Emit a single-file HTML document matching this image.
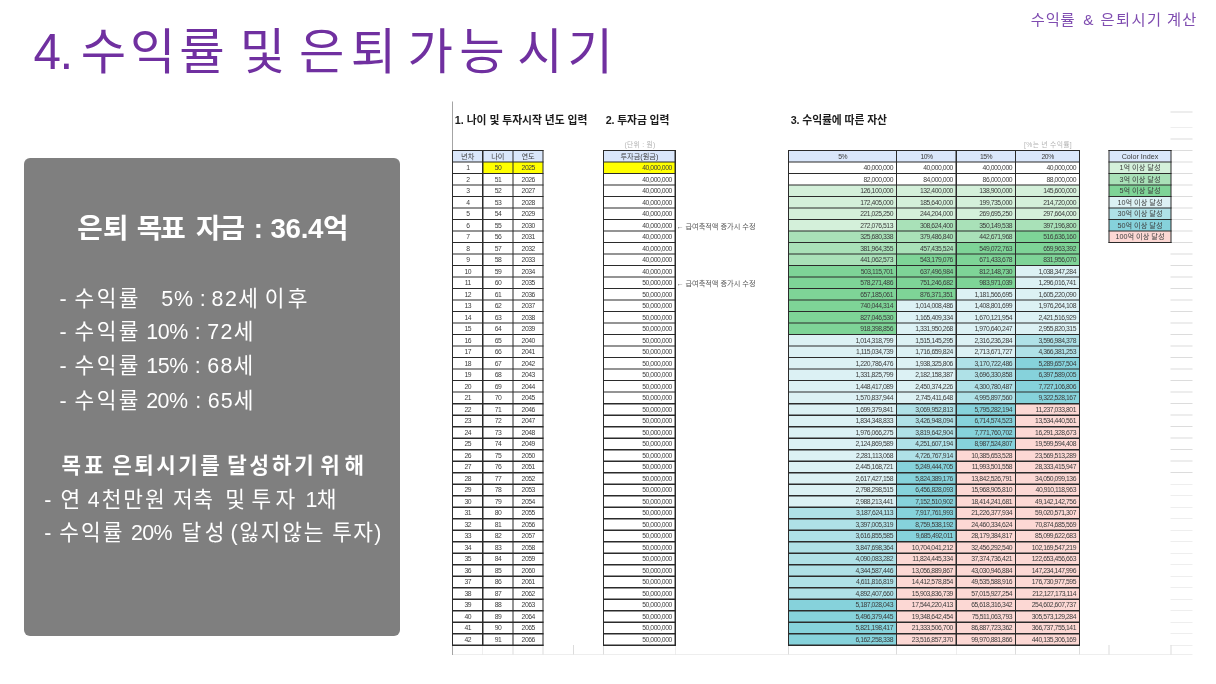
<!DOCTYPE html>
<html lang="ko">
<head>
<meta charset="utf-8">
<title>수익률 및 은퇴 가능 시기</title>
<style>
html,body{margin:0;padding:0;background:#fff;}
body{width:1216px;height:684px;position:relative;overflow:hidden;font-family:"Liberation Sans","Noto Sans CJK KR","NanumGothic",sans-serif;}
#box{position:absolute;left:24px;top:158px;width:376px;height:477.5px;background:#7f7f7f;border-radius:6px;color:#fff;}
.w{position:absolute;white-space:nowrap;line-height:1;}
#sheet{position:absolute;left:0;top:0;width:2432px;height:1368px;transform:scale(0.5);transform-origin:0 0;font-size:14.4px;color:#3c3c3c;}
#sheet div{position:absolute;box-sizing:border-box;white-space:nowrap;overflow:hidden;}
#sheet .c{display:flex;align-items:center;justify-content:center;line-height:1;}
#sheet .c.r{justify-content:flex-end;padding-right:6.8px;letter-spacing:-0.9px;font-size:13.6px;}
#sheet .c.n{letter-spacing:-0.9px;font-size:13.6px;padding-left:0.9px;}
#sheet .note{display:flex;align-items:center;color:#555;font-size:14.4px;overflow:visible;}
</style>
</head>
<body>
<div id="box"></div>
<span id="ti0" class="w" style="left:33.47px;top:26.74px;font-size:49.4px;font-weight:400;letter-spacing:-1.40px;color:#7030a0">4.</span>
<span id="ti1" class="w" style="left:80.81px;top:26.74px;font-size:49.4px;font-weight:400;letter-spacing:3.78px;color:#7030a0">수익률</span>
<span id="ti2" class="w" style="left:239.72px;top:26.74px;font-size:49.4px;font-weight:400;letter-spacing:0.00px;color:#7030a0">및</span>
<span id="ti3" class="w" style="left:298.99px;top:26.74px;font-size:49.4px;font-weight:400;letter-spacing:6.26px;color:#7030a0">은퇴</span>
<span id="ti4" class="w" style="left:407.42px;top:26.74px;font-size:49.4px;font-weight:400;letter-spacing:6.34px;color:#7030a0">가능</span>
<span id="ti5" class="w" style="left:517.31px;top:26.74px;font-size:49.4px;font-weight:400;letter-spacing:4.83px;color:#7030a0">시기</span>
<span id="tg0" class="w" style="left:1030.83px;top:11.80px;font-size:15.3px;font-weight:400;letter-spacing:0.75px;color:#7f4cb0">수익률</span>
<span id="tg1" class="w" style="left:1083.17px;top:11.80px;font-size:15.3px;font-weight:400;letter-spacing:0.00px;color:#7f4cb0">&amp;</span>
<span id="tg2" class="w" style="left:1100.46px;top:11.80px;font-size:15.3px;font-weight:400;letter-spacing:1.42px;color:#7f4cb0">은퇴시기</span>
<span id="tg3" class="w" style="left:1166.98px;top:11.80px;font-size:15.3px;font-weight:400;letter-spacing:1.29px;color:#7f4cb0">계산</span>
<span id="h10" class="w" style="left:77.14px;top:214.73px;font-size:27.7px;font-weight:700;letter-spacing:0.28px;color:#ffffff">은퇴</span>
<span id="h11" class="w" style="left:136.71px;top:214.73px;font-size:27.7px;font-weight:700;letter-spacing:-1.87px;color:#ffffff">목표</span>
<span id="h12" class="w" style="left:196.11px;top:214.73px;font-size:27.7px;font-weight:700;letter-spacing:-1.97px;color:#ffffff">자금</span>
<span id="h13" class="w" style="left:253.77px;top:214.73px;font-size:27.7px;font-weight:700;letter-spacing:0.00px;color:#ffffff">:</span>
<span id="h14" class="w" style="left:270.47px;top:214.73px;font-size:27.7px;font-weight:700;letter-spacing:-0.32px;color:#ffffff">36.4억</span>
<span id="la0" class="w" style="left:59.50px;top:288.61px;font-size:21.4px;font-weight:400;letter-spacing:0.00px;color:#ffffff">-</span>
<span id="la1" class="w" style="left:74.58px;top:288.61px;font-size:21.4px;font-weight:400;letter-spacing:2.39px;color:#ffffff">수익률</span>
<span id="la2" class="w" style="left:161.30px;top:288.61px;font-size:21.4px;font-weight:400;letter-spacing:0.79px;color:#ffffff">5%</span>
<span id="la3" class="w" style="left:199.64px;top:288.61px;font-size:21.4px;font-weight:400;letter-spacing:0.00px;color:#ffffff">:</span>
<span id="la4" class="w" style="left:211.57px;top:288.61px;font-size:21.4px;font-weight:400;letter-spacing:1.49px;color:#ffffff">82세</span>
<span id="la5" class="w" style="left:264.63px;top:288.61px;font-size:21.4px;font-weight:400;letter-spacing:3.43px;color:#ffffff">이후</span>
<span id="lb0" class="w" style="left:59.50px;top:322.45px;font-size:21.4px;font-weight:400;letter-spacing:0.00px;color:#ffffff">-</span>
<span id="lb1" class="w" style="left:74.58px;top:322.45px;font-size:21.4px;font-weight:400;letter-spacing:2.39px;color:#ffffff">수익률</span>
<span id="lb2" class="w" style="left:146.23px;top:322.45px;font-size:21.4px;font-weight:400;letter-spacing:-0.42px;color:#ffffff">10%</span>
<span id="lb3" class="w" style="left:194.79px;top:322.45px;font-size:21.4px;font-weight:400;letter-spacing:0.00px;color:#ffffff">:</span>
<span id="lb4" class="w" style="left:207.25px;top:322.45px;font-size:21.4px;font-weight:400;letter-spacing:1.31px;color:#ffffff">72세</span>
<span id="lc0" class="w" style="left:59.50px;top:355.89px;font-size:21.4px;font-weight:400;letter-spacing:0.00px;color:#ffffff">-</span>
<span id="lc1" class="w" style="left:74.58px;top:355.89px;font-size:21.4px;font-weight:400;letter-spacing:2.39px;color:#ffffff">수익률</span>
<span id="lc2" class="w" style="left:146.23px;top:355.89px;font-size:21.4px;font-weight:400;letter-spacing:-0.42px;color:#ffffff">15%</span>
<span id="lc3" class="w" style="left:194.79px;top:355.89px;font-size:21.4px;font-weight:400;letter-spacing:0.00px;color:#ffffff">:</span>
<span id="lc4" class="w" style="left:207.28px;top:355.89px;font-size:21.4px;font-weight:400;letter-spacing:1.26px;color:#ffffff">68세</span>
<span id="ld0" class="w" style="left:59.50px;top:390.63px;font-size:21.4px;font-weight:400;letter-spacing:0.00px;color:#ffffff">-</span>
<span id="ld1" class="w" style="left:74.58px;top:390.63px;font-size:21.4px;font-weight:400;letter-spacing:2.39px;color:#ffffff">수익률</span>
<span id="ld2" class="w" style="left:146.21px;top:390.63px;font-size:21.4px;font-weight:400;letter-spacing:-0.51px;color:#ffffff">20%</span>
<span id="ld3" class="w" style="left:195.33px;top:390.63px;font-size:21.4px;font-weight:400;letter-spacing:0.00px;color:#ffffff">:</span>
<span id="ld4" class="w" style="left:207.69px;top:390.63px;font-size:21.4px;font-weight:400;letter-spacing:1.19px;color:#ffffff">65세</span>
<span id="h20" class="w" style="left:61.48px;top:455.18px;font-size:21.2px;font-weight:700;letter-spacing:3.09px;color:#ffffff">목표</span>
<span id="h21" class="w" style="left:112.32px;top:455.18px;font-size:21.2px;font-weight:700;letter-spacing:2.52px;color:#ffffff">은퇴시기를</span>
<span id="h22" class="w" style="left:227.25px;top:455.18px;font-size:21.2px;font-weight:700;letter-spacing:2.87px;color:#ffffff">달성하기</span>
<span id="h23" class="w" style="left:320.14px;top:455.18px;font-size:21.2px;font-weight:700;letter-spacing:4.92px;color:#ffffff">위해</span>
<span id="le0" class="w" style="left:44.23px;top:490.45px;font-size:21.4px;font-weight:400;letter-spacing:0.00px;color:#ffffff">-</span>
<span id="le1" class="w" style="left:60.51px;top:490.45px;font-size:21.4px;font-weight:400;letter-spacing:0.00px;color:#ffffff">연</span>
<span id="le2" class="w" style="left:87.83px;top:490.45px;font-size:21.4px;font-weight:400;letter-spacing:1.94px;color:#ffffff">4천만원</span>
<span id="le3" class="w" style="left:172.88px;top:490.45px;font-size:21.4px;font-weight:400;letter-spacing:0.78px;color:#ffffff">저축</span>
<span id="le4" class="w" style="left:225.15px;top:490.45px;font-size:21.4px;font-weight:400;letter-spacing:0.00px;color:#ffffff">및</span>
<span id="le5" class="w" style="left:251.49px;top:490.45px;font-size:21.4px;font-weight:400;letter-spacing:4.34px;color:#ffffff">투자</span>
<span id="le6" class="w" style="left:305.43px;top:490.45px;font-size:21.4px;font-weight:400;letter-spacing:-0.45px;color:#ffffff">1채</span>
<span id="lf0" class="w" style="left:44.23px;top:522.61px;font-size:21.4px;font-weight:400;letter-spacing:0.00px;color:#ffffff">-</span>
<span id="lf1" class="w" style="left:59.15px;top:522.61px;font-size:21.4px;font-weight:400;letter-spacing:2.11px;color:#ffffff">수익률</span>
<span id="lf2" class="w" style="left:130.88px;top:522.61px;font-size:21.4px;font-weight:400;letter-spacing:-0.64px;color:#ffffff">20%</span>
<span id="lf3" class="w" style="left:181.41px;top:522.61px;font-size:21.4px;font-weight:400;letter-spacing:3.65px;color:#ffffff">달성</span>
<span id="lf4" class="w" style="left:230.39px;top:522.61px;font-size:21.4px;font-weight:400;letter-spacing:1.81px;color:#ffffff">(잃지않는</span>
<span id="lf5" class="w" style="left:332.27px;top:522.61px;font-size:21.4px;font-weight:400;letter-spacing:1.31px;color:#ffffff">투자)</span>
<span id="s10" class="w" style="left:454.85px;top:114.69px;font-size:10.8px;font-weight:700;letter-spacing:-0.04px;color:#1c1c1c">1. 나이 및 투자시작 년도 입력</span>
<span id="s20" class="w" style="left:605.64px;top:114.94px;font-size:10.8px;font-weight:700;letter-spacing:-0.12px;color:#1c1c1c">2. 투자금 입력</span>
<span id="s30" class="w" style="left:790.64px;top:115.44px;font-size:10.8px;font-weight:700;letter-spacing:-0.10px;color:#1c1c1c">3. 수익률에 따른 자산</span>
<span id="g10" class="w" style="left:624.59px;top:142.19px;font-size:6.8px;font-weight:400;letter-spacing:0.25px;color:#b4b4b4">(단위 : 원)</span>
<span id="g20" class="w" style="left:1024.10px;top:141.91px;font-size:6.8px;font-weight:400;letter-spacing:0.30px;color:#b4b4b4">[%는 년 수익률]</span>
<div id="sheet">
<div class="l" style="left:2341.10px;top:222.90px;width:43.80px;height:1.80px;background:#dcdcdc"></div>
<div class="l" style="left:2341.10px;top:254.70px;width:43.80px;height:1.80px;background:#dcdcdc"></div>
<div class="l" style="left:2341.10px;top:277.10px;width:43.80px;height:1.80px;background:#dcdcdc"></div>
<div class="l" style="left:2341.10px;top:300.10px;width:43.80px;height:1.80px;background:#dcdcdc"></div>
<div class="l" style="left:2341.10px;top:323.11px;width:43.80px;height:1.80px;background:#dcdcdc"></div>
<div class="l" style="left:2341.10px;top:346.13px;width:43.80px;height:1.80px;background:#dcdcdc"></div>
<div class="l" style="left:2341.10px;top:369.14px;width:43.80px;height:1.80px;background:#dcdcdc"></div>
<div class="l" style="left:2341.10px;top:392.16px;width:43.80px;height:1.80px;background:#dcdcdc"></div>
<div class="l" style="left:2341.10px;top:415.17px;width:43.80px;height:1.80px;background:#dcdcdc"></div>
<div class="l" style="left:2341.10px;top:438.18px;width:43.80px;height:1.80px;background:#dcdcdc"></div>
<div class="l" style="left:2341.10px;top:461.20px;width:43.80px;height:1.80px;background:#dcdcdc"></div>
<div class="l" style="left:2341.10px;top:484.21px;width:43.80px;height:1.80px;background:#dcdcdc"></div>
<div class="l" style="left:2341.10px;top:507.23px;width:43.80px;height:1.80px;background:#dcdcdc"></div>
<div class="l" style="left:2341.10px;top:530.24px;width:43.80px;height:1.80px;background:#dcdcdc"></div>
<div class="l" style="left:2341.10px;top:553.25px;width:43.80px;height:1.80px;background:#dcdcdc"></div>
<div class="l" style="left:2341.10px;top:576.27px;width:43.80px;height:1.80px;background:#dcdcdc"></div>
<div class="l" style="left:2341.10px;top:599.28px;width:43.80px;height:1.80px;background:#dcdcdc"></div>
<div class="l" style="left:2341.10px;top:622.30px;width:43.80px;height:1.80px;background:#dcdcdc"></div>
<div class="l" style="left:2341.10px;top:645.31px;width:43.80px;height:1.80px;background:#dcdcdc"></div>
<div class="l" style="left:2341.10px;top:668.32px;width:43.80px;height:1.80px;background:#dcdcdc"></div>
<div class="l" style="left:2341.10px;top:691.34px;width:43.80px;height:1.80px;background:#dcdcdc"></div>
<div class="l" style="left:2341.10px;top:714.35px;width:43.80px;height:1.80px;background:#dcdcdc"></div>
<div class="l" style="left:2341.10px;top:737.37px;width:43.80px;height:1.80px;background:#dcdcdc"></div>
<div class="l" style="left:2341.10px;top:760.38px;width:43.80px;height:1.80px;background:#dcdcdc"></div>
<div class="l" style="left:2341.10px;top:783.39px;width:43.80px;height:1.80px;background:#dcdcdc"></div>
<div class="l" style="left:2341.10px;top:806.41px;width:43.80px;height:1.80px;background:#dcdcdc"></div>
<div class="l" style="left:2341.10px;top:829.42px;width:43.80px;height:1.80px;background:#dcdcdc"></div>
<div class="l" style="left:2341.10px;top:852.44px;width:43.80px;height:1.80px;background:#dcdcdc"></div>
<div class="l" style="left:2341.10px;top:875.45px;width:43.80px;height:1.80px;background:#dcdcdc"></div>
<div class="l" style="left:2341.10px;top:898.46px;width:43.80px;height:1.80px;background:#dcdcdc"></div>
<div class="l" style="left:2341.10px;top:921.48px;width:43.80px;height:1.80px;background:#dcdcdc"></div>
<div class="l" style="left:2341.10px;top:944.49px;width:43.80px;height:1.80px;background:#dcdcdc"></div>
<div class="l" style="left:2341.10px;top:967.51px;width:43.80px;height:1.80px;background:#dcdcdc"></div>
<div class="l" style="left:2341.10px;top:990.52px;width:43.80px;height:1.80px;background:#dcdcdc"></div>
<div class="l" style="left:2341.10px;top:1013.53px;width:43.80px;height:1.80px;background:#dcdcdc"></div>
<div class="l" style="left:2341.10px;top:1036.55px;width:43.80px;height:1.80px;background:#dcdcdc"></div>
<div class="l" style="left:2341.10px;top:1059.56px;width:43.80px;height:1.80px;background:#dcdcdc"></div>
<div class="l" style="left:2341.10px;top:1082.58px;width:43.80px;height:1.80px;background:#dcdcdc"></div>
<div class="l" style="left:2341.10px;top:1105.59px;width:43.80px;height:1.80px;background:#dcdcdc"></div>
<div class="l" style="left:2341.10px;top:1128.60px;width:43.80px;height:1.80px;background:#dcdcdc"></div>
<div class="l" style="left:2341.10px;top:1151.62px;width:43.80px;height:1.80px;background:#dcdcdc"></div>
<div class="l" style="left:2341.10px;top:1174.63px;width:43.80px;height:1.80px;background:#dcdcdc"></div>
<div class="l" style="left:2341.10px;top:1197.65px;width:43.80px;height:1.80px;background:#dcdcdc"></div>
<div class="l" style="left:2341.10px;top:1220.66px;width:43.80px;height:1.80px;background:#dcdcdc"></div>
<div class="l" style="left:2341.10px;top:1243.67px;width:43.80px;height:1.80px;background:#dcdcdc"></div>
<div class="l" style="left:2341.10px;top:1266.69px;width:43.80px;height:1.80px;background:#dcdcdc"></div>
<div class="l" style="left:2341.10px;top:1289.70px;width:43.80px;height:1.80px;background:#dcdcdc"></div>
<div class="l" style="left:904.10px;top:1307.50px;width:1480.80px;height:1.80px;background:#dcdcdc"></div>
<div class="l" style="left:964.70px;top:1289.70px;width:1.80px;height:19.60px;background:#dcdcdc"></div>
<div class="l" style="left:1024.90px;top:1289.70px;width:1.80px;height:19.60px;background:#dcdcdc"></div>
<div class="l" style="left:1085.30px;top:1289.70px;width:1.80px;height:19.60px;background:#dcdcdc"></div>
<div class="l" style="left:1145.90px;top:1289.70px;width:1.80px;height:19.60px;background:#dcdcdc"></div>
<div class="l" style="left:1206.10px;top:1289.70px;width:1.80px;height:19.60px;background:#dcdcdc"></div>
<div class="l" style="left:1349.50px;top:1289.70px;width:1.80px;height:19.60px;background:#dcdcdc"></div>
<div class="l" style="left:1576.10px;top:1289.70px;width:1.80px;height:19.60px;background:#dcdcdc"></div>
<div class="l" style="left:1791.90px;top:1289.70px;width:1.80px;height:19.60px;background:#dcdcdc"></div>
<div class="l" style="left:1911.50px;top:1289.70px;width:1.80px;height:19.60px;background:#dcdcdc"></div>
<div class="l" style="left:2030.10px;top:1289.70px;width:1.80px;height:19.60px;background:#dcdcdc"></div>
<div class="l" style="left:2157.90px;top:1289.70px;width:1.80px;height:19.60px;background:#dcdcdc"></div>
<div class="l" style="left:2217.30px;top:1289.70px;width:1.80px;height:19.60px;background:#dcdcdc"></div>
<div class="l" style="left:2341.10px;top:1289.70px;width:1.80px;height:19.60px;background:#dcdcdc"></div>
<div class="l" style="left:904.10px;top:202.70px;width:1.80px;height:1107.40px;background:#a4a4a4"></div>
<div class="c c" style="left:905.00px;top:301.00px;width:60.60px;height:23.01px;background:#dae7fb">년차</div>
<div class="c c" style="left:965.60px;top:301.00px;width:60.20px;height:23.01px;background:#dae7fb">나이</div>
<div class="c c" style="left:1025.80px;top:301.00px;width:60.40px;height:23.01px;background:#dae7fb">연도</div>
<div class="c c n" style="left:905.00px;top:324.01px;width:60.60px;height:23.01px;background:#fff">1</div>
<div class="c c n" style="left:965.60px;top:324.01px;width:60.20px;height:23.01px;background:#ffff00">50</div>
<div class="c c n" style="left:1025.80px;top:324.01px;width:60.40px;height:23.01px;background:#ffff00">2025</div>
<div class="c c n" style="left:905.00px;top:347.03px;width:60.60px;height:23.01px;background:#fff">2</div>
<div class="c c n" style="left:965.60px;top:347.03px;width:60.20px;height:23.01px;background:#fff">51</div>
<div class="c c n" style="left:1025.80px;top:347.03px;width:60.40px;height:23.01px;background:#fff">2026</div>
<div class="c c n" style="left:905.00px;top:370.04px;width:60.60px;height:23.01px;background:#fff">3</div>
<div class="c c n" style="left:965.60px;top:370.04px;width:60.20px;height:23.01px;background:#fff">52</div>
<div class="c c n" style="left:1025.80px;top:370.04px;width:60.40px;height:23.01px;background:#fff">2027</div>
<div class="c c n" style="left:905.00px;top:393.06px;width:60.60px;height:23.01px;background:#fff">4</div>
<div class="c c n" style="left:965.60px;top:393.06px;width:60.20px;height:23.01px;background:#fff">53</div>
<div class="c c n" style="left:1025.80px;top:393.06px;width:60.40px;height:23.01px;background:#fff">2028</div>
<div class="c c n" style="left:905.00px;top:416.07px;width:60.60px;height:23.01px;background:#fff">5</div>
<div class="c c n" style="left:965.60px;top:416.07px;width:60.20px;height:23.01px;background:#fff">54</div>
<div class="c c n" style="left:1025.80px;top:416.07px;width:60.40px;height:23.01px;background:#fff">2029</div>
<div class="c c n" style="left:905.00px;top:439.08px;width:60.60px;height:23.01px;background:#fff">6</div>
<div class="c c n" style="left:965.60px;top:439.08px;width:60.20px;height:23.01px;background:#fff">55</div>
<div class="c c n" style="left:1025.80px;top:439.08px;width:60.40px;height:23.01px;background:#fff">2030</div>
<div class="c c n" style="left:905.00px;top:462.10px;width:60.60px;height:23.01px;background:#fff">7</div>
<div class="c c n" style="left:965.60px;top:462.10px;width:60.20px;height:23.01px;background:#fff">56</div>
<div class="c c n" style="left:1025.80px;top:462.10px;width:60.40px;height:23.01px;background:#fff">2031</div>
<div class="c c n" style="left:905.00px;top:485.11px;width:60.60px;height:23.01px;background:#fff">8</div>
<div class="c c n" style="left:965.60px;top:485.11px;width:60.20px;height:23.01px;background:#fff">57</div>
<div class="c c n" style="left:1025.80px;top:485.11px;width:60.40px;height:23.01px;background:#fff">2032</div>
<div class="c c n" style="left:905.00px;top:508.13px;width:60.60px;height:23.01px;background:#fff">9</div>
<div class="c c n" style="left:965.60px;top:508.13px;width:60.20px;height:23.01px;background:#fff">58</div>
<div class="c c n" style="left:1025.80px;top:508.13px;width:60.40px;height:23.01px;background:#fff">2033</div>
<div class="c c n" style="left:905.00px;top:531.14px;width:60.60px;height:23.01px;background:#fff">10</div>
<div class="c c n" style="left:965.60px;top:531.14px;width:60.20px;height:23.01px;background:#fff">59</div>
<div class="c c n" style="left:1025.80px;top:531.14px;width:60.40px;height:23.01px;background:#fff">2034</div>
<div class="c c n" style="left:905.00px;top:554.15px;width:60.60px;height:23.01px;background:#fff">11</div>
<div class="c c n" style="left:965.60px;top:554.15px;width:60.20px;height:23.01px;background:#fff">60</div>
<div class="c c n" style="left:1025.80px;top:554.15px;width:60.40px;height:23.01px;background:#fff">2035</div>
<div class="c c n" style="left:905.00px;top:577.17px;width:60.60px;height:23.01px;background:#fff">12</div>
<div class="c c n" style="left:965.60px;top:577.17px;width:60.20px;height:23.01px;background:#fff">61</div>
<div class="c c n" style="left:1025.80px;top:577.17px;width:60.40px;height:23.01px;background:#fff">2036</div>
<div class="c c n" style="left:905.00px;top:600.18px;width:60.60px;height:23.01px;background:#fff">13</div>
<div class="c c n" style="left:965.60px;top:600.18px;width:60.20px;height:23.01px;background:#fff">62</div>
<div class="c c n" style="left:1025.80px;top:600.18px;width:60.40px;height:23.01px;background:#fff">2037</div>
<div class="c c n" style="left:905.00px;top:623.20px;width:60.60px;height:23.01px;background:#fff">14</div>
<div class="c c n" style="left:965.60px;top:623.20px;width:60.20px;height:23.01px;background:#fff">63</div>
<div class="c c n" style="left:1025.80px;top:623.20px;width:60.40px;height:23.01px;background:#fff">2038</div>
<div class="c c n" style="left:905.00px;top:646.21px;width:60.60px;height:23.01px;background:#fff">15</div>
<div class="c c n" style="left:965.60px;top:646.21px;width:60.20px;height:23.01px;background:#fff">64</div>
<div class="c c n" style="left:1025.80px;top:646.21px;width:60.40px;height:23.01px;background:#fff">2039</div>
<div class="c c n" style="left:905.00px;top:669.22px;width:60.60px;height:23.01px;background:#fff">16</div>
<div class="c c n" style="left:965.60px;top:669.22px;width:60.20px;height:23.01px;background:#fff">65</div>
<div class="c c n" style="left:1025.80px;top:669.22px;width:60.40px;height:23.01px;background:#fff">2040</div>
<div class="c c n" style="left:905.00px;top:692.24px;width:60.60px;height:23.01px;background:#fff">17</div>
<div class="c c n" style="left:965.60px;top:692.24px;width:60.20px;height:23.01px;background:#fff">66</div>
<div class="c c n" style="left:1025.80px;top:692.24px;width:60.40px;height:23.01px;background:#fff">2041</div>
<div class="c c n" style="left:905.00px;top:715.25px;width:60.60px;height:23.01px;background:#fff">18</div>
<div class="c c n" style="left:965.60px;top:715.25px;width:60.20px;height:23.01px;background:#fff">67</div>
<div class="c c n" style="left:1025.80px;top:715.25px;width:60.40px;height:23.01px;background:#fff">2042</div>
<div class="c c n" style="left:905.00px;top:738.27px;width:60.60px;height:23.01px;background:#fff">19</div>
<div class="c c n" style="left:965.60px;top:738.27px;width:60.20px;height:23.01px;background:#fff">68</div>
<div class="c c n" style="left:1025.80px;top:738.27px;width:60.40px;height:23.01px;background:#fff">2043</div>
<div class="c c n" style="left:905.00px;top:761.28px;width:60.60px;height:23.01px;background:#fff">20</div>
<div class="c c n" style="left:965.60px;top:761.28px;width:60.20px;height:23.01px;background:#fff">69</div>
<div class="c c n" style="left:1025.80px;top:761.28px;width:60.40px;height:23.01px;background:#fff">2044</div>
<div class="c c n" style="left:905.00px;top:784.29px;width:60.60px;height:23.01px;background:#fff">21</div>
<div class="c c n" style="left:965.60px;top:784.29px;width:60.20px;height:23.01px;background:#fff">70</div>
<div class="c c n" style="left:1025.80px;top:784.29px;width:60.40px;height:23.01px;background:#fff">2045</div>
<div class="c c n" style="left:905.00px;top:807.31px;width:60.60px;height:23.01px;background:#fff">22</div>
<div class="c c n" style="left:965.60px;top:807.31px;width:60.20px;height:23.01px;background:#fff">71</div>
<div class="c c n" style="left:1025.80px;top:807.31px;width:60.40px;height:23.01px;background:#fff">2046</div>
<div class="c c n" style="left:905.00px;top:830.32px;width:60.60px;height:23.01px;background:#fff">23</div>
<div class="c c n" style="left:965.60px;top:830.32px;width:60.20px;height:23.01px;background:#fff">72</div>
<div class="c c n" style="left:1025.80px;top:830.32px;width:60.40px;height:23.01px;background:#fff">2047</div>
<div class="c c n" style="left:905.00px;top:853.34px;width:60.60px;height:23.01px;background:#fff">24</div>
<div class="c c n" style="left:965.60px;top:853.34px;width:60.20px;height:23.01px;background:#fff">73</div>
<div class="c c n" style="left:1025.80px;top:853.34px;width:60.40px;height:23.01px;background:#fff">2048</div>
<div class="c c n" style="left:905.00px;top:876.35px;width:60.60px;height:23.01px;background:#fff">25</div>
<div class="c c n" style="left:965.60px;top:876.35px;width:60.20px;height:23.01px;background:#fff">74</div>
<div class="c c n" style="left:1025.80px;top:876.35px;width:60.40px;height:23.01px;background:#fff">2049</div>
<div class="c c n" style="left:905.00px;top:899.36px;width:60.60px;height:23.01px;background:#fff">26</div>
<div class="c c n" style="left:965.60px;top:899.36px;width:60.20px;height:23.01px;background:#fff">75</div>
<div class="c c n" style="left:1025.80px;top:899.36px;width:60.40px;height:23.01px;background:#fff">2050</div>
<div class="c c n" style="left:905.00px;top:922.38px;width:60.60px;height:23.01px;background:#fff">27</div>
<div class="c c n" style="left:965.60px;top:922.38px;width:60.20px;height:23.01px;background:#fff">76</div>
<div class="c c n" style="left:1025.80px;top:922.38px;width:60.40px;height:23.01px;background:#fff">2051</div>
<div class="c c n" style="left:905.00px;top:945.39px;width:60.60px;height:23.01px;background:#fff">28</div>
<div class="c c n" style="left:965.60px;top:945.39px;width:60.20px;height:23.01px;background:#fff">77</div>
<div class="c c n" style="left:1025.80px;top:945.39px;width:60.40px;height:23.01px;background:#fff">2052</div>
<div class="c c n" style="left:905.00px;top:968.41px;width:60.60px;height:23.01px;background:#fff">29</div>
<div class="c c n" style="left:965.60px;top:968.41px;width:60.20px;height:23.01px;background:#fff">78</div>
<div class="c c n" style="left:1025.80px;top:968.41px;width:60.40px;height:23.01px;background:#fff">2053</div>
<div class="c c n" style="left:905.00px;top:991.42px;width:60.60px;height:23.01px;background:#fff">30</div>
<div class="c c n" style="left:965.60px;top:991.42px;width:60.20px;height:23.01px;background:#fff">79</div>
<div class="c c n" style="left:1025.80px;top:991.42px;width:60.40px;height:23.01px;background:#fff">2054</div>
<div class="c c n" style="left:905.00px;top:1014.43px;width:60.60px;height:23.01px;background:#fff">31</div>
<div class="c c n" style="left:965.60px;top:1014.43px;width:60.20px;height:23.01px;background:#fff">80</div>
<div class="c c n" style="left:1025.80px;top:1014.43px;width:60.40px;height:23.01px;background:#fff">2055</div>
<div class="c c n" style="left:905.00px;top:1037.45px;width:60.60px;height:23.01px;background:#fff">32</div>
<div class="c c n" style="left:965.60px;top:1037.45px;width:60.20px;height:23.01px;background:#fff">81</div>
<div class="c c n" style="left:1025.80px;top:1037.45px;width:60.40px;height:23.01px;background:#fff">2056</div>
<div class="c c n" style="left:905.00px;top:1060.46px;width:60.60px;height:23.01px;background:#fff">33</div>
<div class="c c n" style="left:965.60px;top:1060.46px;width:60.20px;height:23.01px;background:#fff">82</div>
<div class="c c n" style="left:1025.80px;top:1060.46px;width:60.40px;height:23.01px;background:#fff">2057</div>
<div class="c c n" style="left:905.00px;top:1083.48px;width:60.60px;height:23.01px;background:#fff">34</div>
<div class="c c n" style="left:965.60px;top:1083.48px;width:60.20px;height:23.01px;background:#fff">83</div>
<div class="c c n" style="left:1025.80px;top:1083.48px;width:60.40px;height:23.01px;background:#fff">2058</div>
<div class="c c n" style="left:905.00px;top:1106.49px;width:60.60px;height:23.01px;background:#fff">35</div>
<div class="c c n" style="left:965.60px;top:1106.49px;width:60.20px;height:23.01px;background:#fff">84</div>
<div class="c c n" style="left:1025.80px;top:1106.49px;width:60.40px;height:23.01px;background:#fff">2059</div>
<div class="c c n" style="left:905.00px;top:1129.50px;width:60.60px;height:23.01px;background:#fff">36</div>
<div class="c c n" style="left:965.60px;top:1129.50px;width:60.20px;height:23.01px;background:#fff">85</div>
<div class="c c n" style="left:1025.80px;top:1129.50px;width:60.40px;height:23.01px;background:#fff">2060</div>
<div class="c c n" style="left:905.00px;top:1152.52px;width:60.60px;height:23.01px;background:#fff">37</div>
<div class="c c n" style="left:965.60px;top:1152.52px;width:60.20px;height:23.01px;background:#fff">86</div>
<div class="c c n" style="left:1025.80px;top:1152.52px;width:60.40px;height:23.01px;background:#fff">2061</div>
<div class="c c n" style="left:905.00px;top:1175.53px;width:60.60px;height:23.01px;background:#fff">38</div>
<div class="c c n" style="left:965.60px;top:1175.53px;width:60.20px;height:23.01px;background:#fff">87</div>
<div class="c c n" style="left:1025.80px;top:1175.53px;width:60.40px;height:23.01px;background:#fff">2062</div>
<div class="c c n" style="left:905.00px;top:1198.55px;width:60.60px;height:23.01px;background:#fff">39</div>
<div class="c c n" style="left:965.60px;top:1198.55px;width:60.20px;height:23.01px;background:#fff">88</div>
<div class="c c n" style="left:1025.80px;top:1198.55px;width:60.40px;height:23.01px;background:#fff">2063</div>
<div class="c c n" style="left:905.00px;top:1221.56px;width:60.60px;height:23.01px;background:#fff">40</div>
<div class="c c n" style="left:965.60px;top:1221.56px;width:60.20px;height:23.01px;background:#fff">89</div>
<div class="c c n" style="left:1025.80px;top:1221.56px;width:60.40px;height:23.01px;background:#fff">2064</div>
<div class="c c n" style="left:905.00px;top:1244.57px;width:60.60px;height:23.01px;background:#fff">41</div>
<div class="c c n" style="left:965.60px;top:1244.57px;width:60.20px;height:23.01px;background:#fff">90</div>
<div class="c c n" style="left:1025.80px;top:1244.57px;width:60.40px;height:23.01px;background:#fff">2065</div>
<div class="c c n" style="left:905.00px;top:1267.59px;width:60.60px;height:23.01px;background:#fff">42</div>
<div class="c c n" style="left:965.60px;top:1267.59px;width:60.20px;height:23.01px;background:#fff">91</div>
<div class="c c n" style="left:1025.80px;top:1267.59px;width:60.40px;height:23.01px;background:#fff">2066</div>
<div class="l" style="left:903.80px;top:299.80px;width:183.60px;height:2.40px;background:#2b2b2b"></div>
<div class="l" style="left:903.80px;top:322.81px;width:183.60px;height:2.40px;background:#2b2b2b"></div>
<div class="l" style="left:903.80px;top:345.83px;width:183.60px;height:2.40px;background:#2b2b2b"></div>
<div class="l" style="left:903.80px;top:368.84px;width:183.60px;height:2.40px;background:#2b2b2b"></div>
<div class="l" style="left:903.80px;top:391.86px;width:183.60px;height:2.40px;background:#2b2b2b"></div>
<div class="l" style="left:903.80px;top:414.87px;width:183.60px;height:2.40px;background:#2b2b2b"></div>
<div class="l" style="left:903.80px;top:437.88px;width:183.60px;height:2.40px;background:#2b2b2b"></div>
<div class="l" style="left:903.80px;top:460.90px;width:183.60px;height:2.40px;background:#2b2b2b"></div>
<div class="l" style="left:903.80px;top:483.91px;width:183.60px;height:2.40px;background:#2b2b2b"></div>
<div class="l" style="left:903.80px;top:506.93px;width:183.60px;height:2.40px;background:#2b2b2b"></div>
<div class="l" style="left:903.80px;top:529.94px;width:183.60px;height:2.40px;background:#2b2b2b"></div>
<div class="l" style="left:903.80px;top:552.95px;width:183.60px;height:2.40px;background:#2b2b2b"></div>
<div class="l" style="left:903.80px;top:575.97px;width:183.60px;height:2.40px;background:#2b2b2b"></div>
<div class="l" style="left:903.80px;top:598.98px;width:183.60px;height:2.40px;background:#2b2b2b"></div>
<div class="l" style="left:903.80px;top:622.00px;width:183.60px;height:2.40px;background:#2b2b2b"></div>
<div class="l" style="left:903.80px;top:645.01px;width:183.60px;height:2.40px;background:#2b2b2b"></div>
<div class="l" style="left:903.80px;top:668.02px;width:183.60px;height:2.40px;background:#2b2b2b"></div>
<div class="l" style="left:903.80px;top:691.04px;width:183.60px;height:2.40px;background:#2b2b2b"></div>
<div class="l" style="left:903.80px;top:714.05px;width:183.60px;height:2.40px;background:#2b2b2b"></div>
<div class="l" style="left:903.80px;top:737.07px;width:183.60px;height:2.40px;background:#2b2b2b"></div>
<div class="l" style="left:903.80px;top:760.08px;width:183.60px;height:2.40px;background:#2b2b2b"></div>
<div class="l" style="left:903.80px;top:783.09px;width:183.60px;height:2.40px;background:#2b2b2b"></div>
<div class="l" style="left:903.80px;top:806.11px;width:183.60px;height:2.40px;background:#2b2b2b"></div>
<div class="l" style="left:903.80px;top:829.12px;width:183.60px;height:2.40px;background:#2b2b2b"></div>
<div class="l" style="left:903.80px;top:852.14px;width:183.60px;height:2.40px;background:#2b2b2b"></div>
<div class="l" style="left:903.80px;top:875.15px;width:183.60px;height:2.40px;background:#2b2b2b"></div>
<div class="l" style="left:903.80px;top:898.16px;width:183.60px;height:2.40px;background:#2b2b2b"></div>
<div class="l" style="left:903.80px;top:921.18px;width:183.60px;height:2.40px;background:#2b2b2b"></div>
<div class="l" style="left:903.80px;top:944.19px;width:183.60px;height:2.40px;background:#2b2b2b"></div>
<div class="l" style="left:903.80px;top:967.21px;width:183.60px;height:2.40px;background:#2b2b2b"></div>
<div class="l" style="left:903.80px;top:990.22px;width:183.60px;height:2.40px;background:#2b2b2b"></div>
<div class="l" style="left:903.80px;top:1013.23px;width:183.60px;height:2.40px;background:#2b2b2b"></div>
<div class="l" style="left:903.80px;top:1036.25px;width:183.60px;height:2.40px;background:#2b2b2b"></div>
<div class="l" style="left:903.80px;top:1059.26px;width:183.60px;height:2.40px;background:#2b2b2b"></div>
<div class="l" style="left:903.80px;top:1082.28px;width:183.60px;height:2.40px;background:#2b2b2b"></div>
<div class="l" style="left:903.80px;top:1105.29px;width:183.60px;height:2.40px;background:#2b2b2b"></div>
<div class="l" style="left:903.80px;top:1128.30px;width:183.60px;height:2.40px;background:#2b2b2b"></div>
<div class="l" style="left:903.80px;top:1151.32px;width:183.60px;height:2.40px;background:#2b2b2b"></div>
<div class="l" style="left:903.80px;top:1174.33px;width:183.60px;height:2.40px;background:#2b2b2b"></div>
<div class="l" style="left:903.80px;top:1197.35px;width:183.60px;height:2.40px;background:#2b2b2b"></div>
<div class="l" style="left:903.80px;top:1220.36px;width:183.60px;height:2.40px;background:#2b2b2b"></div>
<div class="l" style="left:903.80px;top:1243.37px;width:183.60px;height:2.40px;background:#2b2b2b"></div>
<div class="l" style="left:903.80px;top:1266.39px;width:183.60px;height:2.40px;background:#2b2b2b"></div>
<div class="l" style="left:903.80px;top:1289.40px;width:183.60px;height:2.40px;background:#2b2b2b"></div>
<div class="l" style="left:903.80px;top:299.80px;width:2.40px;height:992.00px;background:#2b2b2b"></div>
<div class="l" style="left:964.40px;top:299.80px;width:2.40px;height:992.00px;background:#2b2b2b"></div>
<div class="l" style="left:1024.60px;top:299.80px;width:2.40px;height:992.00px;background:#2b2b2b"></div>
<div class="l" style="left:1085.00px;top:299.80px;width:2.40px;height:992.00px;background:#2b2b2b"></div>
<div class="c c" style="left:1207.00px;top:301.00px;width:143.40px;height:23.01px;background:#dae7fb">투자금(원금)</div>
<div class="c r" style="left:1207.00px;top:324.01px;width:143.40px;height:23.01px;background:#ffff00">40,000,000</div>
<div class="c r" style="left:1207.00px;top:347.03px;width:143.40px;height:23.01px;background:#fff">40,000,000</div>
<div class="c r" style="left:1207.00px;top:370.04px;width:143.40px;height:23.01px;background:#fff">40,000,000</div>
<div class="c r" style="left:1207.00px;top:393.06px;width:143.40px;height:23.01px;background:#fff">40,000,000</div>
<div class="c r" style="left:1207.00px;top:416.07px;width:143.40px;height:23.01px;background:#fff">40,000,000</div>
<div class="c r" style="left:1207.00px;top:439.08px;width:143.40px;height:23.01px;background:#fff">40,000,000</div>
<div class="c r" style="left:1207.00px;top:462.10px;width:143.40px;height:23.01px;background:#fff">40,000,000</div>
<div class="c r" style="left:1207.00px;top:485.11px;width:143.40px;height:23.01px;background:#fff">40,000,000</div>
<div class="c r" style="left:1207.00px;top:508.13px;width:143.40px;height:23.01px;background:#fff">40,000,000</div>
<div class="c r" style="left:1207.00px;top:531.14px;width:143.40px;height:23.01px;background:#fff">40,000,000</div>
<div class="c r" style="left:1207.00px;top:554.15px;width:143.40px;height:23.01px;background:#fff">50,000,000</div>
<div class="c r" style="left:1207.00px;top:577.17px;width:143.40px;height:23.01px;background:#fff">50,000,000</div>
<div class="c r" style="left:1207.00px;top:600.18px;width:143.40px;height:23.01px;background:#fff">50,000,000</div>
<div class="c r" style="left:1207.00px;top:623.20px;width:143.40px;height:23.01px;background:#fff">50,000,000</div>
<div class="c r" style="left:1207.00px;top:646.21px;width:143.40px;height:23.01px;background:#fff">50,000,000</div>
<div class="c r" style="left:1207.00px;top:669.22px;width:143.40px;height:23.01px;background:#fff">50,000,000</div>
<div class="c r" style="left:1207.00px;top:692.24px;width:143.40px;height:23.01px;background:#fff">50,000,000</div>
<div class="c r" style="left:1207.00px;top:715.25px;width:143.40px;height:23.01px;background:#fff">50,000,000</div>
<div class="c r" style="left:1207.00px;top:738.27px;width:143.40px;height:23.01px;background:#fff">50,000,000</div>
<div class="c r" style="left:1207.00px;top:761.28px;width:143.40px;height:23.01px;background:#fff">50,000,000</div>
<div class="c r" style="left:1207.00px;top:784.29px;width:143.40px;height:23.01px;background:#fff">50,000,000</div>
<div class="c r" style="left:1207.00px;top:807.31px;width:143.40px;height:23.01px;background:#fff">50,000,000</div>
<div class="c r" style="left:1207.00px;top:830.32px;width:143.40px;height:23.01px;background:#fff">50,000,000</div>
<div class="c r" style="left:1207.00px;top:853.34px;width:143.40px;height:23.01px;background:#fff">50,000,000</div>
<div class="c r" style="left:1207.00px;top:876.35px;width:143.40px;height:23.01px;background:#fff">50,000,000</div>
<div class="c r" style="left:1207.00px;top:899.36px;width:143.40px;height:23.01px;background:#fff">50,000,000</div>
<div class="c r" style="left:1207.00px;top:922.38px;width:143.40px;height:23.01px;background:#fff">50,000,000</div>
<div class="c r" style="left:1207.00px;top:945.39px;width:143.40px;height:23.01px;background:#fff">50,000,000</div>
<div class="c r" style="left:1207.00px;top:968.41px;width:143.40px;height:23.01px;background:#fff">50,000,000</div>
<div class="c r" style="left:1207.00px;top:991.42px;width:143.40px;height:23.01px;background:#fff">50,000,000</div>
<div class="c r" style="left:1207.00px;top:1014.43px;width:143.40px;height:23.01px;background:#fff">50,000,000</div>
<div class="c r" style="left:1207.00px;top:1037.45px;width:143.40px;height:23.01px;background:#fff">50,000,000</div>
<div class="c r" style="left:1207.00px;top:1060.46px;width:143.40px;height:23.01px;background:#fff">50,000,000</div>
<div class="c r" style="left:1207.00px;top:1083.48px;width:143.40px;height:23.01px;background:#fff">50,000,000</div>
<div class="c r" style="left:1207.00px;top:1106.49px;width:143.40px;height:23.01px;background:#fff">50,000,000</div>
<div class="c r" style="left:1207.00px;top:1129.50px;width:143.40px;height:23.01px;background:#fff">50,000,000</div>
<div class="c r" style="left:1207.00px;top:1152.52px;width:143.40px;height:23.01px;background:#fff">50,000,000</div>
<div class="c r" style="left:1207.00px;top:1175.53px;width:143.40px;height:23.01px;background:#fff">50,000,000</div>
<div class="c r" style="left:1207.00px;top:1198.55px;width:143.40px;height:23.01px;background:#fff">50,000,000</div>
<div class="c r" style="left:1207.00px;top:1221.56px;width:143.40px;height:23.01px;background:#fff">50,000,000</div>
<div class="c r" style="left:1207.00px;top:1244.57px;width:143.40px;height:23.01px;background:#fff">50,000,000</div>
<div class="c r" style="left:1207.00px;top:1267.59px;width:143.40px;height:23.01px;background:#fff">50,000,000</div>
<div class="l" style="left:1205.80px;top:299.80px;width:145.80px;height:2.40px;background:#2b2b2b"></div>
<div class="l" style="left:1205.80px;top:322.81px;width:145.80px;height:2.40px;background:#2b2b2b"></div>
<div class="l" style="left:1205.80px;top:345.83px;width:145.80px;height:2.40px;background:#2b2b2b"></div>
<div class="l" style="left:1205.80px;top:368.84px;width:145.80px;height:2.40px;background:#2b2b2b"></div>
<div class="l" style="left:1205.80px;top:391.86px;width:145.80px;height:2.40px;background:#2b2b2b"></div>
<div class="l" style="left:1205.80px;top:414.87px;width:145.80px;height:2.40px;background:#2b2b2b"></div>
<div class="l" style="left:1205.80px;top:437.88px;width:145.80px;height:2.40px;background:#2b2b2b"></div>
<div class="l" style="left:1205.80px;top:460.90px;width:145.80px;height:2.40px;background:#2b2b2b"></div>
<div class="l" style="left:1205.80px;top:483.91px;width:145.80px;height:2.40px;background:#2b2b2b"></div>
<div class="l" style="left:1205.80px;top:506.93px;width:145.80px;height:2.40px;background:#2b2b2b"></div>
<div class="l" style="left:1205.80px;top:529.94px;width:145.80px;height:2.40px;background:#2b2b2b"></div>
<div class="l" style="left:1205.80px;top:552.95px;width:145.80px;height:2.40px;background:#2b2b2b"></div>
<div class="l" style="left:1205.80px;top:575.97px;width:145.80px;height:2.40px;background:#2b2b2b"></div>
<div class="l" style="left:1205.80px;top:598.98px;width:145.80px;height:2.40px;background:#2b2b2b"></div>
<div class="l" style="left:1205.80px;top:622.00px;width:145.80px;height:2.40px;background:#2b2b2b"></div>
<div class="l" style="left:1205.80px;top:645.01px;width:145.80px;height:2.40px;background:#2b2b2b"></div>
<div class="l" style="left:1205.80px;top:668.02px;width:145.80px;height:2.40px;background:#2b2b2b"></div>
<div class="l" style="left:1205.80px;top:691.04px;width:145.80px;height:2.40px;background:#2b2b2b"></div>
<div class="l" style="left:1205.80px;top:714.05px;width:145.80px;height:2.40px;background:#2b2b2b"></div>
<div class="l" style="left:1205.80px;top:737.07px;width:145.80px;height:2.40px;background:#2b2b2b"></div>
<div class="l" style="left:1205.80px;top:760.08px;width:145.80px;height:2.40px;background:#2b2b2b"></div>
<div class="l" style="left:1205.80px;top:783.09px;width:145.80px;height:2.40px;background:#2b2b2b"></div>
<div class="l" style="left:1205.80px;top:806.11px;width:145.80px;height:2.40px;background:#2b2b2b"></div>
<div class="l" style="left:1205.80px;top:829.12px;width:145.80px;height:2.40px;background:#2b2b2b"></div>
<div class="l" style="left:1205.80px;top:852.14px;width:145.80px;height:2.40px;background:#2b2b2b"></div>
<div class="l" style="left:1205.80px;top:875.15px;width:145.80px;height:2.40px;background:#2b2b2b"></div>
<div class="l" style="left:1205.80px;top:898.16px;width:145.80px;height:2.40px;background:#2b2b2b"></div>
<div class="l" style="left:1205.80px;top:921.18px;width:145.80px;height:2.40px;background:#2b2b2b"></div>
<div class="l" style="left:1205.80px;top:944.19px;width:145.80px;height:2.40px;background:#2b2b2b"></div>
<div class="l" style="left:1205.80px;top:967.21px;width:145.80px;height:2.40px;background:#2b2b2b"></div>
<div class="l" style="left:1205.80px;top:990.22px;width:145.80px;height:2.40px;background:#2b2b2b"></div>
<div class="l" style="left:1205.80px;top:1013.23px;width:145.80px;height:2.40px;background:#2b2b2b"></div>
<div class="l" style="left:1205.80px;top:1036.25px;width:145.80px;height:2.40px;background:#2b2b2b"></div>
<div class="l" style="left:1205.80px;top:1059.26px;width:145.80px;height:2.40px;background:#2b2b2b"></div>
<div class="l" style="left:1205.80px;top:1082.28px;width:145.80px;height:2.40px;background:#2b2b2b"></div>
<div class="l" style="left:1205.80px;top:1105.29px;width:145.80px;height:2.40px;background:#2b2b2b"></div>
<div class="l" style="left:1205.80px;top:1128.30px;width:145.80px;height:2.40px;background:#2b2b2b"></div>
<div class="l" style="left:1205.80px;top:1151.32px;width:145.80px;height:2.40px;background:#2b2b2b"></div>
<div class="l" style="left:1205.80px;top:1174.33px;width:145.80px;height:2.40px;background:#2b2b2b"></div>
<div class="l" style="left:1205.80px;top:1197.35px;width:145.80px;height:2.40px;background:#2b2b2b"></div>
<div class="l" style="left:1205.80px;top:1220.36px;width:145.80px;height:2.40px;background:#2b2b2b"></div>
<div class="l" style="left:1205.80px;top:1243.37px;width:145.80px;height:2.40px;background:#2b2b2b"></div>
<div class="l" style="left:1205.80px;top:1266.39px;width:145.80px;height:2.40px;background:#2b2b2b"></div>
<div class="l" style="left:1205.80px;top:1289.40px;width:145.80px;height:2.40px;background:#2b2b2b"></div>
<div class="l" style="left:1205.80px;top:299.80px;width:2.40px;height:992.00px;background:#2b2b2b"></div>
<div class="l" style="left:1349.20px;top:299.80px;width:2.40px;height:992.00px;background:#2b2b2b"></div>
<div class="note" style="left:1352.40px;top:439.08px;height:23.01px">← 급여축적액 증가시 수정</div>
<div class="note" style="left:1352.40px;top:554.15px;height:23.01px">← 급여축적액 증가시 수정</div>
<div class="c c n" style="left:1577.00px;top:301.00px;width:215.80px;height:23.01px;background:#dae7fb">5%</div>
<div class="c c n" style="left:1792.80px;top:301.00px;width:119.60px;height:23.01px;background:#dae7fb">10%</div>
<div class="c c n" style="left:1912.40px;top:301.00px;width:118.60px;height:23.01px;background:#dae7fb">15%</div>
<div class="c c n" style="left:2031.00px;top:301.00px;width:127.80px;height:23.01px;background:#dae7fb">20%</div>
<div class="c r" style="left:1577.00px;top:324.01px;width:215.80px;height:23.01px;background:#ffffff">40,000,000</div>
<div class="c r" style="left:1577.00px;top:347.03px;width:215.80px;height:23.01px;background:#ffffff">82,000,000</div>
<div class="c r" style="left:1577.00px;top:370.04px;width:215.80px;height:23.01px;background:#d4f0da">126,100,000</div>
<div class="c r" style="left:1577.00px;top:393.06px;width:215.80px;height:23.01px;background:#d4f0da">172,405,000</div>
<div class="c r" style="left:1577.00px;top:416.07px;width:215.80px;height:23.01px;background:#d4f0da">221,025,250</div>
<div class="c r" style="left:1577.00px;top:439.08px;width:215.80px;height:23.01px;background:#d4f0da">272,076,513</div>
<div class="c r" style="left:1577.00px;top:462.10px;width:215.80px;height:23.01px;background:#a9e1b8">325,680,338</div>
<div class="c r" style="left:1577.00px;top:485.11px;width:215.80px;height:23.01px;background:#a9e1b8">381,964,355</div>
<div class="c r" style="left:1577.00px;top:508.13px;width:215.80px;height:23.01px;background:#a9e1b8">441,062,573</div>
<div class="c r" style="left:1577.00px;top:531.14px;width:215.80px;height:23.01px;background:#7ed497">503,115,701</div>
<div class="c r" style="left:1577.00px;top:554.15px;width:215.80px;height:23.01px;background:#7ed497">578,271,486</div>
<div class="c r" style="left:1577.00px;top:577.17px;width:215.80px;height:23.01px;background:#7ed497">657,185,061</div>
<div class="c r" style="left:1577.00px;top:600.18px;width:215.80px;height:23.01px;background:#7ed497">740,044,314</div>
<div class="c r" style="left:1577.00px;top:623.20px;width:215.80px;height:23.01px;background:#7ed497">827,046,530</div>
<div class="c r" style="left:1577.00px;top:646.21px;width:215.80px;height:23.01px;background:#7ed497">918,398,856</div>
<div class="c r" style="left:1577.00px;top:669.22px;width:215.80px;height:23.01px;background:#dcf1f4">1,014,318,799</div>
<div class="c r" style="left:1577.00px;top:692.24px;width:215.80px;height:23.01px;background:#dcf1f4">1,115,034,739</div>
<div class="c r" style="left:1577.00px;top:715.25px;width:215.80px;height:23.01px;background:#dcf1f4">1,220,786,476</div>
<div class="c r" style="left:1577.00px;top:738.27px;width:215.80px;height:23.01px;background:#dcf1f4">1,331,825,799</div>
<div class="c r" style="left:1577.00px;top:761.28px;width:215.80px;height:23.01px;background:#dcf1f4">1,448,417,089</div>
<div class="c r" style="left:1577.00px;top:784.29px;width:215.80px;height:23.01px;background:#dcf1f4">1,570,837,944</div>
<div class="c r" style="left:1577.00px;top:807.31px;width:215.80px;height:23.01px;background:#dcf1f4">1,699,379,841</div>
<div class="c r" style="left:1577.00px;top:830.32px;width:215.80px;height:23.01px;background:#dcf1f4">1,834,348,833</div>
<div class="c r" style="left:1577.00px;top:853.34px;width:215.80px;height:23.01px;background:#dcf1f4">1,976,066,275</div>
<div class="c r" style="left:1577.00px;top:876.35px;width:215.80px;height:23.01px;background:#dcf1f4">2,124,869,589</div>
<div class="c r" style="left:1577.00px;top:899.36px;width:215.80px;height:23.01px;background:#dcf1f4">2,281,113,068</div>
<div class="c r" style="left:1577.00px;top:922.38px;width:215.80px;height:23.01px;background:#dcf1f4">2,445,168,721</div>
<div class="c r" style="left:1577.00px;top:945.39px;width:215.80px;height:23.01px;background:#dcf1f4">2,617,427,158</div>
<div class="c r" style="left:1577.00px;top:968.41px;width:215.80px;height:23.01px;background:#dcf1f4">2,798,298,515</div>
<div class="c r" style="left:1577.00px;top:991.42px;width:215.80px;height:23.01px;background:#dcf1f4">2,988,213,441</div>
<div class="c r" style="left:1577.00px;top:1014.43px;width:215.80px;height:23.01px;background:#afe1e7">3,187,624,113</div>
<div class="c r" style="left:1577.00px;top:1037.45px;width:215.80px;height:23.01px;background:#afe1e7">3,397,005,319</div>
<div class="c r" style="left:1577.00px;top:1060.46px;width:215.80px;height:23.01px;background:#afe1e7">3,616,855,585</div>
<div class="c r" style="left:1577.00px;top:1083.48px;width:215.80px;height:23.01px;background:#afe1e7">3,847,698,364</div>
<div class="c r" style="left:1577.00px;top:1106.49px;width:215.80px;height:23.01px;background:#afe1e7">4,090,083,282</div>
<div class="c r" style="left:1577.00px;top:1129.50px;width:215.80px;height:23.01px;background:#afe1e7">4,344,587,446</div>
<div class="c r" style="left:1577.00px;top:1152.52px;width:215.80px;height:23.01px;background:#afe1e7">4,611,816,819</div>
<div class="c r" style="left:1577.00px;top:1175.53px;width:215.80px;height:23.01px;background:#afe1e7">4,892,407,660</div>
<div class="c r" style="left:1577.00px;top:1198.55px;width:215.80px;height:23.01px;background:#86d2db">5,187,028,043</div>
<div class="c r" style="left:1577.00px;top:1221.56px;width:215.80px;height:23.01px;background:#86d2db">5,496,379,445</div>
<div class="c r" style="left:1577.00px;top:1244.57px;width:215.80px;height:23.01px;background:#86d2db">5,821,198,417</div>
<div class="c r" style="left:1577.00px;top:1267.59px;width:215.80px;height:23.01px;background:#86d2db">6,162,258,338</div>
<div class="c r" style="left:1792.80px;top:324.01px;width:119.60px;height:23.01px;background:#ffffff">40,000,000</div>
<div class="c r" style="left:1792.80px;top:347.03px;width:119.60px;height:23.01px;background:#ffffff">84,000,000</div>
<div class="c r" style="left:1792.80px;top:370.04px;width:119.60px;height:23.01px;background:#d4f0da">132,400,000</div>
<div class="c r" style="left:1792.80px;top:393.06px;width:119.60px;height:23.01px;background:#d4f0da">185,640,000</div>
<div class="c r" style="left:1792.80px;top:416.07px;width:119.60px;height:23.01px;background:#d4f0da">244,204,000</div>
<div class="c r" style="left:1792.80px;top:439.08px;width:119.60px;height:23.01px;background:#a9e1b8">308,624,400</div>
<div class="c r" style="left:1792.80px;top:462.10px;width:119.60px;height:23.01px;background:#a9e1b8">379,486,840</div>
<div class="c r" style="left:1792.80px;top:485.11px;width:119.60px;height:23.01px;background:#a9e1b8">457,435,524</div>
<div class="c r" style="left:1792.80px;top:508.13px;width:119.60px;height:23.01px;background:#7ed497">543,179,076</div>
<div class="c r" style="left:1792.80px;top:531.14px;width:119.60px;height:23.01px;background:#7ed497">637,496,984</div>
<div class="c r" style="left:1792.80px;top:554.15px;width:119.60px;height:23.01px;background:#7ed497">751,246,682</div>
<div class="c r" style="left:1792.80px;top:577.17px;width:119.60px;height:23.01px;background:#7ed497">876,371,351</div>
<div class="c r" style="left:1792.80px;top:600.18px;width:119.60px;height:23.01px;background:#dcf1f4">1,014,008,486</div>
<div class="c r" style="left:1792.80px;top:623.20px;width:119.60px;height:23.01px;background:#dcf1f4">1,165,409,334</div>
<div class="c r" style="left:1792.80px;top:646.21px;width:119.60px;height:23.01px;background:#dcf1f4">1,331,950,268</div>
<div class="c r" style="left:1792.80px;top:669.22px;width:119.60px;height:23.01px;background:#dcf1f4">1,515,145,295</div>
<div class="c r" style="left:1792.80px;top:692.24px;width:119.60px;height:23.01px;background:#dcf1f4">1,716,659,824</div>
<div class="c r" style="left:1792.80px;top:715.25px;width:119.60px;height:23.01px;background:#dcf1f4">1,938,325,806</div>
<div class="c r" style="left:1792.80px;top:738.27px;width:119.60px;height:23.01px;background:#dcf1f4">2,182,158,387</div>
<div class="c r" style="left:1792.80px;top:761.28px;width:119.60px;height:23.01px;background:#dcf1f4">2,450,374,226</div>
<div class="c r" style="left:1792.80px;top:784.29px;width:119.60px;height:23.01px;background:#dcf1f4">2,745,411,648</div>
<div class="c r" style="left:1792.80px;top:807.31px;width:119.60px;height:23.01px;background:#afe1e7">3,069,952,813</div>
<div class="c r" style="left:1792.80px;top:830.32px;width:119.60px;height:23.01px;background:#afe1e7">3,426,948,094</div>
<div class="c r" style="left:1792.80px;top:853.34px;width:119.60px;height:23.01px;background:#afe1e7">3,819,642,904</div>
<div class="c r" style="left:1792.80px;top:876.35px;width:119.60px;height:23.01px;background:#afe1e7">4,251,607,194</div>
<div class="c r" style="left:1792.80px;top:899.36px;width:119.60px;height:23.01px;background:#afe1e7">4,726,767,914</div>
<div class="c r" style="left:1792.80px;top:922.38px;width:119.60px;height:23.01px;background:#86d2db">5,249,444,705</div>
<div class="c r" style="left:1792.80px;top:945.39px;width:119.60px;height:23.01px;background:#86d2db">5,824,389,176</div>
<div class="c r" style="left:1792.80px;top:968.41px;width:119.60px;height:23.01px;background:#86d2db">6,456,828,093</div>
<div class="c r" style="left:1792.80px;top:991.42px;width:119.60px;height:23.01px;background:#86d2db">7,152,510,902</div>
<div class="c r" style="left:1792.80px;top:1014.43px;width:119.60px;height:23.01px;background:#86d2db">7,917,761,993</div>
<div class="c r" style="left:1792.80px;top:1037.45px;width:119.60px;height:23.01px;background:#86d2db">8,759,538,192</div>
<div class="c r" style="left:1792.80px;top:1060.46px;width:119.60px;height:23.01px;background:#86d2db">9,685,492,011</div>
<div class="c r" style="left:1792.80px;top:1083.48px;width:119.60px;height:23.01px;background:#fcd8d4">10,704,041,212</div>
<div class="c r" style="left:1792.80px;top:1106.49px;width:119.60px;height:23.01px;background:#fcd8d4">11,824,445,334</div>
<div class="c r" style="left:1792.80px;top:1129.50px;width:119.60px;height:23.01px;background:#fcd8d4">13,056,889,867</div>
<div class="c r" style="left:1792.80px;top:1152.52px;width:119.60px;height:23.01px;background:#fcd8d4">14,412,578,854</div>
<div class="c r" style="left:1792.80px;top:1175.53px;width:119.60px;height:23.01px;background:#fcd8d4">15,903,836,739</div>
<div class="c r" style="left:1792.80px;top:1198.55px;width:119.60px;height:23.01px;background:#fcd8d4">17,544,220,413</div>
<div class="c r" style="left:1792.80px;top:1221.56px;width:119.60px;height:23.01px;background:#fcd8d4">19,348,642,454</div>
<div class="c r" style="left:1792.80px;top:1244.57px;width:119.60px;height:23.01px;background:#fcd8d4">21,333,506,700</div>
<div class="c r" style="left:1792.80px;top:1267.59px;width:119.60px;height:23.01px;background:#fcd8d4">23,516,857,370</div>
<div class="c r" style="left:1912.40px;top:324.01px;width:118.60px;height:23.01px;background:#ffffff">40,000,000</div>
<div class="c r" style="left:1912.40px;top:347.03px;width:118.60px;height:23.01px;background:#ffffff">86,000,000</div>
<div class="c r" style="left:1912.40px;top:370.04px;width:118.60px;height:23.01px;background:#d4f0da">138,900,000</div>
<div class="c r" style="left:1912.40px;top:393.06px;width:118.60px;height:23.01px;background:#d4f0da">199,735,000</div>
<div class="c r" style="left:1912.40px;top:416.07px;width:118.60px;height:23.01px;background:#d4f0da">269,695,250</div>
<div class="c r" style="left:1912.40px;top:439.08px;width:118.60px;height:23.01px;background:#a9e1b8">350,149,538</div>
<div class="c r" style="left:1912.40px;top:462.10px;width:118.60px;height:23.01px;background:#a9e1b8">442,671,968</div>
<div class="c r" style="left:1912.40px;top:485.11px;width:118.60px;height:23.01px;background:#7ed497">549,072,763</div>
<div class="c r" style="left:1912.40px;top:508.13px;width:118.60px;height:23.01px;background:#7ed497">671,433,678</div>
<div class="c r" style="left:1912.40px;top:531.14px;width:118.60px;height:23.01px;background:#7ed497">812,148,730</div>
<div class="c r" style="left:1912.40px;top:554.15px;width:118.60px;height:23.01px;background:#7ed497">983,971,039</div>
<div class="c r" style="left:1912.40px;top:577.17px;width:118.60px;height:23.01px;background:#dcf1f4">1,181,566,695</div>
<div class="c r" style="left:1912.40px;top:600.18px;width:118.60px;height:23.01px;background:#dcf1f4">1,408,801,699</div>
<div class="c r" style="left:1912.40px;top:623.20px;width:118.60px;height:23.01px;background:#dcf1f4">1,670,121,954</div>
<div class="c r" style="left:1912.40px;top:646.21px;width:118.60px;height:23.01px;background:#dcf1f4">1,970,640,247</div>
<div class="c r" style="left:1912.40px;top:669.22px;width:118.60px;height:23.01px;background:#dcf1f4">2,316,236,284</div>
<div class="c r" style="left:1912.40px;top:692.24px;width:118.60px;height:23.01px;background:#dcf1f4">2,713,671,727</div>
<div class="c r" style="left:1912.40px;top:715.25px;width:118.60px;height:23.01px;background:#afe1e7">3,170,722,486</div>
<div class="c r" style="left:1912.40px;top:738.27px;width:118.60px;height:23.01px;background:#afe1e7">3,696,330,858</div>
<div class="c r" style="left:1912.40px;top:761.28px;width:118.60px;height:23.01px;background:#afe1e7">4,300,780,487</div>
<div class="c r" style="left:1912.40px;top:784.29px;width:118.60px;height:23.01px;background:#afe1e7">4,995,897,560</div>
<div class="c r" style="left:1912.40px;top:807.31px;width:118.60px;height:23.01px;background:#86d2db">5,795,282,194</div>
<div class="c r" style="left:1912.40px;top:830.32px;width:118.60px;height:23.01px;background:#86d2db">6,714,574,523</div>
<div class="c r" style="left:1912.40px;top:853.34px;width:118.60px;height:23.01px;background:#86d2db">7,771,760,702</div>
<div class="c r" style="left:1912.40px;top:876.35px;width:118.60px;height:23.01px;background:#86d2db">8,987,524,807</div>
<div class="c r" style="left:1912.40px;top:899.36px;width:118.60px;height:23.01px;background:#fcd8d4">10,385,653,528</div>
<div class="c r" style="left:1912.40px;top:922.38px;width:118.60px;height:23.01px;background:#fcd8d4">11,993,501,558</div>
<div class="c r" style="left:1912.40px;top:945.39px;width:118.60px;height:23.01px;background:#fcd8d4">13,842,526,791</div>
<div class="c r" style="left:1912.40px;top:968.41px;width:118.60px;height:23.01px;background:#fcd8d4">15,968,905,810</div>
<div class="c r" style="left:1912.40px;top:991.42px;width:118.60px;height:23.01px;background:#fcd8d4">18,414,241,681</div>
<div class="c r" style="left:1912.40px;top:1014.43px;width:118.60px;height:23.01px;background:#fcd8d4">21,226,377,934</div>
<div class="c r" style="left:1912.40px;top:1037.45px;width:118.60px;height:23.01px;background:#fcd8d4">24,460,334,624</div>
<div class="c r" style="left:1912.40px;top:1060.46px;width:118.60px;height:23.01px;background:#fcd8d4">28,179,384,817</div>
<div class="c r" style="left:1912.40px;top:1083.48px;width:118.60px;height:23.01px;background:#fcd8d4">32,456,292,540</div>
<div class="c r" style="left:1912.40px;top:1106.49px;width:118.60px;height:23.01px;background:#fcd8d4">37,374,736,421</div>
<div class="c r" style="left:1912.40px;top:1129.50px;width:118.60px;height:23.01px;background:#fcd8d4">43,030,946,884</div>
<div class="c r" style="left:1912.40px;top:1152.52px;width:118.60px;height:23.01px;background:#fcd8d4">49,535,588,916</div>
<div class="c r" style="left:1912.40px;top:1175.53px;width:118.60px;height:23.01px;background:#fcd8d4">57,015,927,254</div>
<div class="c r" style="left:1912.40px;top:1198.55px;width:118.60px;height:23.01px;background:#fcd8d4">65,618,316,342</div>
<div class="c r" style="left:1912.40px;top:1221.56px;width:118.60px;height:23.01px;background:#fcd8d4">75,511,063,793</div>
<div class="c r" style="left:1912.40px;top:1244.57px;width:118.60px;height:23.01px;background:#fcd8d4">86,887,723,362</div>
<div class="c r" style="left:1912.40px;top:1267.59px;width:118.60px;height:23.01px;background:#fcd8d4">99,970,881,866</div>
<div class="c r" style="left:2031.00px;top:324.01px;width:127.80px;height:23.01px;background:#ffffff">40,000,000</div>
<div class="c r" style="left:2031.00px;top:347.03px;width:127.80px;height:23.01px;background:#ffffff">88,000,000</div>
<div class="c r" style="left:2031.00px;top:370.04px;width:127.80px;height:23.01px;background:#d4f0da">145,600,000</div>
<div class="c r" style="left:2031.00px;top:393.06px;width:127.80px;height:23.01px;background:#d4f0da">214,720,000</div>
<div class="c r" style="left:2031.00px;top:416.07px;width:127.80px;height:23.01px;background:#d4f0da">297,664,000</div>
<div class="c r" style="left:2031.00px;top:439.08px;width:127.80px;height:23.01px;background:#a9e1b8">397,196,800</div>
<div class="c r" style="left:2031.00px;top:462.10px;width:127.80px;height:23.01px;background:#7ed497">516,636,160</div>
<div class="c r" style="left:2031.00px;top:485.11px;width:127.80px;height:23.01px;background:#7ed497">659,963,392</div>
<div class="c r" style="left:2031.00px;top:508.13px;width:127.80px;height:23.01px;background:#7ed497">831,956,070</div>
<div class="c r" style="left:2031.00px;top:531.14px;width:127.80px;height:23.01px;background:#dcf1f4">1,038,347,284</div>
<div class="c r" style="left:2031.00px;top:554.15px;width:127.80px;height:23.01px;background:#dcf1f4">1,296,016,741</div>
<div class="c r" style="left:2031.00px;top:577.17px;width:127.80px;height:23.01px;background:#dcf1f4">1,605,220,090</div>
<div class="c r" style="left:2031.00px;top:600.18px;width:127.80px;height:23.01px;background:#dcf1f4">1,976,264,108</div>
<div class="c r" style="left:2031.00px;top:623.20px;width:127.80px;height:23.01px;background:#dcf1f4">2,421,516,929</div>
<div class="c r" style="left:2031.00px;top:646.21px;width:127.80px;height:23.01px;background:#dcf1f4">2,955,820,315</div>
<div class="c r" style="left:2031.00px;top:669.22px;width:127.80px;height:23.01px;background:#afe1e7">3,596,984,378</div>
<div class="c r" style="left:2031.00px;top:692.24px;width:127.80px;height:23.01px;background:#afe1e7">4,366,381,253</div>
<div class="c r" style="left:2031.00px;top:715.25px;width:127.80px;height:23.01px;background:#86d2db">5,289,657,504</div>
<div class="c r" style="left:2031.00px;top:738.27px;width:127.80px;height:23.01px;background:#86d2db">6,397,589,005</div>
<div class="c r" style="left:2031.00px;top:761.28px;width:127.80px;height:23.01px;background:#86d2db">7,727,106,806</div>
<div class="c r" style="left:2031.00px;top:784.29px;width:127.80px;height:23.01px;background:#86d2db">9,322,528,167</div>
<div class="c r" style="left:2031.00px;top:807.31px;width:127.80px;height:23.01px;background:#fcd8d4">11,237,033,801</div>
<div class="c r" style="left:2031.00px;top:830.32px;width:127.80px;height:23.01px;background:#fcd8d4">13,534,440,561</div>
<div class="c r" style="left:2031.00px;top:853.34px;width:127.80px;height:23.01px;background:#fcd8d4">16,291,328,673</div>
<div class="c r" style="left:2031.00px;top:876.35px;width:127.80px;height:23.01px;background:#fcd8d4">19,599,594,408</div>
<div class="c r" style="left:2031.00px;top:899.36px;width:127.80px;height:23.01px;background:#fcd8d4">23,569,513,289</div>
<div class="c r" style="left:2031.00px;top:922.38px;width:127.80px;height:23.01px;background:#fcd8d4">28,333,415,947</div>
<div class="c r" style="left:2031.00px;top:945.39px;width:127.80px;height:23.01px;background:#fcd8d4">34,050,099,136</div>
<div class="c r" style="left:2031.00px;top:968.41px;width:127.80px;height:23.01px;background:#fcd8d4">40,910,118,963</div>
<div class="c r" style="left:2031.00px;top:991.42px;width:127.80px;height:23.01px;background:#fcd8d4">49,142,142,756</div>
<div class="c r" style="left:2031.00px;top:1014.43px;width:127.80px;height:23.01px;background:#fcd8d4">59,020,571,307</div>
<div class="c r" style="left:2031.00px;top:1037.45px;width:127.80px;height:23.01px;background:#fcd8d4">70,874,685,569</div>
<div class="c r" style="left:2031.00px;top:1060.46px;width:127.80px;height:23.01px;background:#fcd8d4">85,099,622,683</div>
<div class="c r" style="left:2031.00px;top:1083.48px;width:127.80px;height:23.01px;background:#fcd8d4">102,169,547,219</div>
<div class="c r" style="left:2031.00px;top:1106.49px;width:127.80px;height:23.01px;background:#fcd8d4">122,653,456,663</div>
<div class="c r" style="left:2031.00px;top:1129.50px;width:127.80px;height:23.01px;background:#fcd8d4">147,234,147,996</div>
<div class="c r" style="left:2031.00px;top:1152.52px;width:127.80px;height:23.01px;background:#fcd8d4">176,730,977,595</div>
<div class="c r" style="left:2031.00px;top:1175.53px;width:127.80px;height:23.01px;background:#fcd8d4">212,127,173,114</div>
<div class="c r" style="left:2031.00px;top:1198.55px;width:127.80px;height:23.01px;background:#fcd8d4">254,602,607,737</div>
<div class="c r" style="left:2031.00px;top:1221.56px;width:127.80px;height:23.01px;background:#fcd8d4">305,573,129,284</div>
<div class="c r" style="left:2031.00px;top:1244.57px;width:127.80px;height:23.01px;background:#fcd8d4">366,737,755,141</div>
<div class="c r" style="left:2031.00px;top:1267.59px;width:127.80px;height:23.01px;background:#fcd8d4">440,135,306,169</div>
<div class="l" style="left:1575.80px;top:299.80px;width:584.20px;height:2.40px;background:#2b2b2b"></div>
<div class="l" style="left:1575.80px;top:322.81px;width:584.20px;height:2.40px;background:#2b2b2b"></div>
<div class="l" style="left:1575.80px;top:345.83px;width:584.20px;height:2.40px;background:#2b2b2b"></div>
<div class="l" style="left:1575.80px;top:368.84px;width:584.20px;height:2.40px;background:#2b2b2b"></div>
<div class="l" style="left:1575.80px;top:391.86px;width:584.20px;height:2.40px;background:#2b2b2b"></div>
<div class="l" style="left:1575.80px;top:414.87px;width:584.20px;height:2.40px;background:#2b2b2b"></div>
<div class="l" style="left:1575.80px;top:437.88px;width:584.20px;height:2.40px;background:#2b2b2b"></div>
<div class="l" style="left:1575.80px;top:460.90px;width:584.20px;height:2.40px;background:#2b2b2b"></div>
<div class="l" style="left:1575.80px;top:483.91px;width:584.20px;height:2.40px;background:#2b2b2b"></div>
<div class="l" style="left:1575.80px;top:506.93px;width:584.20px;height:2.40px;background:#2b2b2b"></div>
<div class="l" style="left:1575.80px;top:529.94px;width:584.20px;height:2.40px;background:#2b2b2b"></div>
<div class="l" style="left:1575.80px;top:552.95px;width:584.20px;height:2.40px;background:#2b2b2b"></div>
<div class="l" style="left:1575.80px;top:575.97px;width:584.20px;height:2.40px;background:#2b2b2b"></div>
<div class="l" style="left:1575.80px;top:598.98px;width:584.20px;height:2.40px;background:#2b2b2b"></div>
<div class="l" style="left:1575.80px;top:622.00px;width:584.20px;height:2.40px;background:#2b2b2b"></div>
<div class="l" style="left:1575.80px;top:645.01px;width:584.20px;height:2.40px;background:#2b2b2b"></div>
<div class="l" style="left:1575.80px;top:668.02px;width:584.20px;height:2.40px;background:#2b2b2b"></div>
<div class="l" style="left:1575.80px;top:691.04px;width:584.20px;height:2.40px;background:#2b2b2b"></div>
<div class="l" style="left:1575.80px;top:714.05px;width:584.20px;height:2.40px;background:#2b2b2b"></div>
<div class="l" style="left:1575.80px;top:737.07px;width:584.20px;height:2.40px;background:#2b2b2b"></div>
<div class="l" style="left:1575.80px;top:760.08px;width:584.20px;height:2.40px;background:#2b2b2b"></div>
<div class="l" style="left:1575.80px;top:783.09px;width:584.20px;height:2.40px;background:#2b2b2b"></div>
<div class="l" style="left:1575.80px;top:806.11px;width:584.20px;height:2.40px;background:#2b2b2b"></div>
<div class="l" style="left:1575.80px;top:829.12px;width:584.20px;height:2.40px;background:#2b2b2b"></div>
<div class="l" style="left:1575.80px;top:852.14px;width:584.20px;height:2.40px;background:#2b2b2b"></div>
<div class="l" style="left:1575.80px;top:875.15px;width:584.20px;height:2.40px;background:#2b2b2b"></div>
<div class="l" style="left:1575.80px;top:898.16px;width:584.20px;height:2.40px;background:#2b2b2b"></div>
<div class="l" style="left:1575.80px;top:921.18px;width:584.20px;height:2.40px;background:#2b2b2b"></div>
<div class="l" style="left:1575.80px;top:944.19px;width:584.20px;height:2.40px;background:#2b2b2b"></div>
<div class="l" style="left:1575.80px;top:967.21px;width:584.20px;height:2.40px;background:#2b2b2b"></div>
<div class="l" style="left:1575.80px;top:990.22px;width:584.20px;height:2.40px;background:#2b2b2b"></div>
<div class="l" style="left:1575.80px;top:1013.23px;width:584.20px;height:2.40px;background:#2b2b2b"></div>
<div class="l" style="left:1575.80px;top:1036.25px;width:584.20px;height:2.40px;background:#2b2b2b"></div>
<div class="l" style="left:1575.80px;top:1059.26px;width:584.20px;height:2.40px;background:#2b2b2b"></div>
<div class="l" style="left:1575.80px;top:1082.28px;width:584.20px;height:2.40px;background:#2b2b2b"></div>
<div class="l" style="left:1575.80px;top:1105.29px;width:584.20px;height:2.40px;background:#2b2b2b"></div>
<div class="l" style="left:1575.80px;top:1128.30px;width:584.20px;height:2.40px;background:#2b2b2b"></div>
<div class="l" style="left:1575.80px;top:1151.32px;width:584.20px;height:2.40px;background:#2b2b2b"></div>
<div class="l" style="left:1575.80px;top:1174.33px;width:584.20px;height:2.40px;background:#2b2b2b"></div>
<div class="l" style="left:1575.80px;top:1197.35px;width:584.20px;height:2.40px;background:#2b2b2b"></div>
<div class="l" style="left:1575.80px;top:1220.36px;width:584.20px;height:2.40px;background:#2b2b2b"></div>
<div class="l" style="left:1575.80px;top:1243.37px;width:584.20px;height:2.40px;background:#2b2b2b"></div>
<div class="l" style="left:1575.80px;top:1266.39px;width:584.20px;height:2.40px;background:#2b2b2b"></div>
<div class="l" style="left:1575.80px;top:1289.40px;width:584.20px;height:2.40px;background:#2b2b2b"></div>
<div class="l" style="left:1575.80px;top:299.80px;width:2.40px;height:992.00px;background:#2b2b2b"></div>
<div class="l" style="left:1791.60px;top:299.80px;width:2.40px;height:992.00px;background:#2b2b2b"></div>
<div class="l" style="left:1911.20px;top:299.80px;width:2.40px;height:992.00px;background:#2b2b2b"></div>
<div class="l" style="left:2029.80px;top:299.80px;width:2.40px;height:992.00px;background:#2b2b2b"></div>
<div class="l" style="left:2157.60px;top:299.80px;width:2.40px;height:992.00px;background:#2b2b2b"></div>
<div class="c c" style="left:2218.20px;top:301.00px;width:123.80px;height:23.01px;background:#dae7fb">Color Index</div>
<div class="c c" style="left:2218.20px;top:324.01px;width:123.80px;height:23.01px;background:#d4f0da">1억 이상 달성</div>
<div class="c c" style="left:2218.20px;top:347.03px;width:123.80px;height:23.01px;background:#a9e1b8">3억 이상 달성</div>
<div class="c c" style="left:2218.20px;top:370.04px;width:123.80px;height:23.01px;background:#7ed497">5억 이상 달성</div>
<div class="c c" style="left:2218.20px;top:393.06px;width:123.80px;height:23.01px;background:#dcf1f4">10억 이상 달성</div>
<div class="c c" style="left:2218.20px;top:416.07px;width:123.80px;height:23.01px;background:#afe1e7">30억 이상 달성</div>
<div class="c c" style="left:2218.20px;top:439.08px;width:123.80px;height:23.01px;background:#86d2db">50억 이상 달성</div>
<div class="c c" style="left:2218.20px;top:462.10px;width:123.80px;height:23.01px;background:#fcd8d4">100억 이상 달성</div>
<div class="l" style="left:2217.00px;top:299.80px;width:126.20px;height:2.40px;background:#2b2b2b"></div>
<div class="l" style="left:2217.00px;top:322.81px;width:126.20px;height:2.40px;background:#2b2b2b"></div>
<div class="l" style="left:2217.00px;top:345.83px;width:126.20px;height:2.40px;background:#2b2b2b"></div>
<div class="l" style="left:2217.00px;top:368.84px;width:126.20px;height:2.40px;background:#2b2b2b"></div>
<div class="l" style="left:2217.00px;top:391.86px;width:126.20px;height:2.40px;background:#2b2b2b"></div>
<div class="l" style="left:2217.00px;top:414.87px;width:126.20px;height:2.40px;background:#2b2b2b"></div>
<div class="l" style="left:2217.00px;top:437.88px;width:126.20px;height:2.40px;background:#2b2b2b"></div>
<div class="l" style="left:2217.00px;top:460.90px;width:126.20px;height:2.40px;background:#2b2b2b"></div>
<div class="l" style="left:2217.00px;top:483.91px;width:126.20px;height:2.40px;background:#2b2b2b"></div>
<div class="l" style="left:2217.00px;top:299.80px;width:2.40px;height:186.51px;background:#2b2b2b"></div>
<div class="l" style="left:2340.80px;top:299.80px;width:2.40px;height:186.51px;background:#2b2b2b"></div>
</div>
</body>
</html>
